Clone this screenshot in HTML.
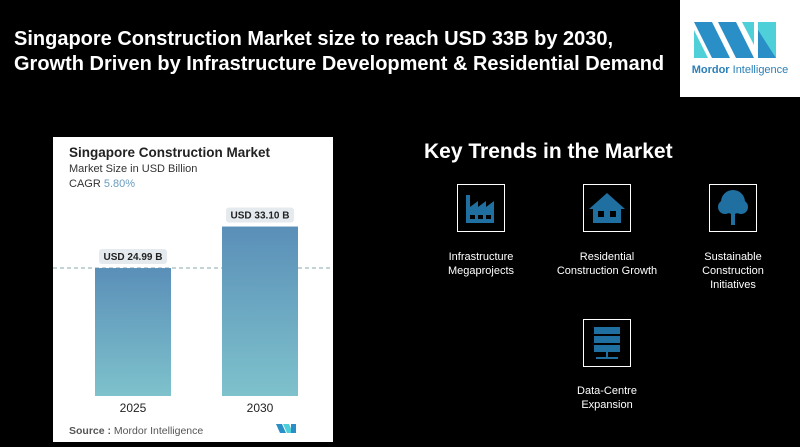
<!DOCTYPE html>
<html><head><meta charset="utf-8"><style>
body{margin:0;width:800px;height:442px;background:#000;overflow:hidden;position:relative;font-family:"Liberation Sans",sans-serif}
.abs{position:absolute}
.title{left:14px;top:27px;color:#fff;font-weight:bold;font-size:20px;line-height:25px}
.logo{left:680px;top:0;width:120px;height:97px;background:#fff}
.panel{left:53px;top:137px;width:280px;height:305px;background:#fff}
.kt{left:424px;top:140px;color:#fff;font-weight:bold;font-size:21px}
.ib{width:46px;height:46px;border:1.5px solid #fff}
.lbl{color:#fff;font-size:11px;text-align:center;width:130px;line-height:14px}
</style></head><body>
<div class="abs title">Singapore Construction Market size to reach USD 33B by 2030,<br>Growth Driven by Infrastructure Development &amp; Residential Demand</div>
<div class="abs logo">
<svg width="120" height="97" viewBox="0 0 120 97">
<polygon points="14,22 32,22 50,58 32,58" fill="#2a8fc7"/><polygon points="14,30 14,58 28,58" fill="#4fd0d8"/>
<polygon points="38,22 56,22 74,58 56,58" fill="#2a8fc7"/><polygon points="62,22 74,22 74,45" fill="#4fd0d8"/>
<polygon points="78,22 96,22 96,58 78,58" fill="#4fd0d8"/><polygon points="78,30 96,58 78,58" fill="#2a8fc7"/>
<text x="60" y="73" text-anchor="middle" font-size="11" font-family="Liberation Sans" fill="#2a7fb8"><tspan font-weight="bold">Mordor</tspan> Intelligence</text>
</svg></div>
<div class="abs panel">
<svg id="ch" width="280" height="305" viewBox="0 0 280 305" font-family="Liberation Sans">
<defs><linearGradient id="g" x1="0" y1="0" x2="0" y2="1"><stop offset="0" stop-color="#5a8fb8"/><stop offset="1" stop-color="#7ec2cc"/></linearGradient></defs>
<text x="16" y="20" font-size="13.5" font-weight="bold" fill="#222">Singapore Construction Market</text>
<text x="16" y="35" font-size="11" fill="#333">Market Size in USD Billion</text>
<text x="16" y="50" font-size="11" fill="#333">CAGR <tspan fill="#6a9cc0">5.80%</tspan></text>
<g id="bars"></g>
<text x="16" y="297" font-size="10.5" fill="#555"><tspan font-weight="bold">Source :</tspan> Mordor Intelligence</text>
<g><polygon points="223,287 229,287 233,296 227,296" fill="#2a8fc7"/><polygon points="230,287 236,287 240,296 234,296" fill="#4fd0d8"/><polygon points="238,287 243,287 243,296 238,296" fill="#2a8fc7"/></g>
</svg></div>
<script>
const categories=["2025","2030"];
const values=[24.99,33.10];
const valueLabels=["USD 24.99 B","USD 33.10 B"];
const base=259, scale=5.12, xs=[42,169], bw=76;
const y=v=>base-v*scale;
const g=document.getElementById('bars');const NS="http://www.w3.org/2000/svg";
function mk(t,a){const e=document.createElementNS(NS,t);for(const k in a)e.setAttribute(k,a[k]);g.appendChild(e);return e;}
const dl=mk('line',{x1:0,x2:280,y1:y(values[0]),y2:y(values[0]),stroke:'#8aa',"stroke-dasharray":'4 3'});


values.forEach((v,i)=>{
const r=mk('rect',{x:xs[i],y:y(v),width:bw,height:v*scale,fill:'url(#g)'});


const p=mk('rect',{x:xs[i]+4,y:y(v)-19,width:bw-8,height:15,rx:3,fill:'#e4eaee'});


const t=mk('text',{x:xs[i]+bw/2,y:y(v)-8,"text-anchor":'middle',"font-size":'10',"font-weight":'bold',fill:'#222'});t.textContent=valueLabels[i];


const c=mk('text',{x:xs[i]+bw/2,y:275,"text-anchor":'middle',"font-size":'12',fill:'#222'});c.textContent=categories[i];


});
</script>
<div class="abs kt">Key Trends in the Market</div>
<div class="abs ib" style="left:457px;top:184px"><svg width="46" height="46"><path d="M8 38V10h4v12l8-6v6l8-6v6l8-6v22z" fill="#1f6fa0"/><rect x="12" y="30" width="5" height="4" fill="#000"/><rect x="20" y="30" width="5" height="4" fill="#000"/><rect x="28" y="30" width="5" height="4" fill="#000"/></svg></div>
<div class="abs ib" style="left:583px;top:184px"><svg width="46" height="46"><path d="M5 24L23 8l18 16h-4v14H9V24z" fill="#1f6fa0"/><rect x="14" y="26" width="6" height="6" fill="#000"/><rect x="26" y="26" width="6" height="6" fill="#000"/></svg></div>
<div class="abs ib" style="left:709px;top:184px"><svg width="46" height="46"><circle cx="23" cy="17" r="12" fill="#1f6fa0"/><circle cx="15" cy="22" r="7" fill="#1f6fa0"/><circle cx="31" cy="22" r="7" fill="#1f6fa0"/><rect x="21" y="26" width="4" height="14" fill="#1f6fa0"/></svg></div>
<div class="abs ib" style="left:583px;top:319px"><svg width="46" height="46"><rect x="10" y="7" width="26" height="7" fill="#1f6fa0"/><rect x="10" y="16" width="26" height="7" fill="#1f6fa0"/><rect x="10" y="25" width="26" height="7" fill="#1f6fa0"/><rect x="22" y="32" width="2" height="5" fill="#1f6fa0"/><rect x="12" y="37" width="22" height="2" fill="#1f6fa0"/></svg></div>
<div class="abs lbl" style="left:416px;top:250px">Infrastructure<br>Megaprojects</div>
<div class="abs lbl" style="left:542px;top:250px">Residential<br>Construction Growth</div>
<div class="abs lbl" style="left:668px;top:250px">Sustainable<br>Construction<br>Initiatives</div>
<div class="abs lbl" style="left:542px;top:384px">Data-Centre<br>Expansion</div>
</body></html>
